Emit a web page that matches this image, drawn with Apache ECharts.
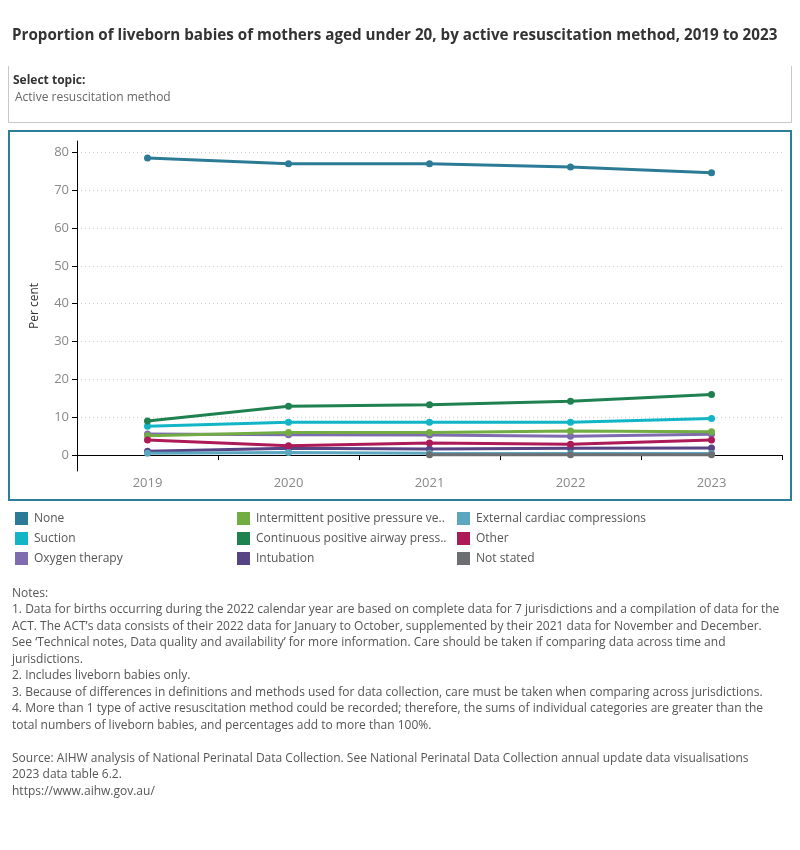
<!DOCTYPE html>
<html><head><meta charset="utf-8">
<script src="https://cdn.jsdelivr.net/npm/echarts@6/dist/echarts.min.js"></script>
<style>html,body{margin:0;padding:0;background:#fff}#c{width:800px;height:850px}</style>
</head><body><div id="c"></div>
<script>
const years = ['2019','2020','2021','2022','2023'];
const yTicks = [0,10,20,30,40,50,60,70,80];
const seriesNames = ['None','Suction','Oxygen therapy','Intermittent positive pressure ventilation','Continuous positive airway pressure','Intubation','External cardiac compressions','Other','Not stated'];
const legendLabels = {'Intermittent positive pressure ventilation':'Intermittent positive pressure ve..','Continuous positive airway pressure':'Continuous positive airway press..'};
const none = [78.5,77.0,77.0,76.1,74.6];
const suction = [7.6,8.7,8.7,8.7,9.7];
const oxygen = [5.6,5.4,5.3,5.0,5.5];
const ippv = [5.1,6.0,6.0,6.4,6.2];
const cpap = [9.0,12.9,13.3,14.2,16.0];
const intubation = [1.0,1.8,1.6,1.8,1.9];
const ecc = [0.5,0.7,0.5,0.4,0.4];
const other = [4.0,2.5,3.2,2.9,4.0];
const notStated = [null,null,0.1,0.1,0.1];
const colors = ['#2c7b96','#12b5c6','#7f6bb0','#72ad44','#1f8050','#564485','#5aa7bf','#ac1b57','#6d6e71'];
const notes = [
 'Notes:',
 '1. Data for births occurring during the 2022 calendar year are based on complete data for 7 jurisdictions and a compilation of data for the',
 'ACT. The ACT\u2019s data consists of their 2022 data for January to October, supplemented by their 2021 data for November and December.',
 'See \u2018Technical notes, Data quality and availability\u2019 for more information. Care should be taken if comparing data across time and',
 'jurisdictions.',
 '2. Includes liveborn babies only.',
 '3. Because of differences in definitions and methods used for data collection, care must be taken when comparing across jurisdictions.',
 '4. More than 1 type of active resuscitation method could be recorded; therefore, the sums of individual categories are greater than the',
 'total numbers of liveborn babies, and percentages add to more than 100%.',
 '',
 'Source: AIHW analysis of National Perinatal Data Collection. See National Perinatal Data Collection annual update data visualisations',
 '2023 data table 6.2.',
 'https://www.aihw.gov.au/'
];
const values = [none,suction,oxygen,ippv,cpap,intubation,ecc,other,notStated];
const FONT = '"Open Sans", sans-serif';
const chart = echarts.init(document.getElementById('c'));
const legendCol = (i, left) => ({
  orient:'vertical', left:left, top:507, itemWidth:13, itemHeight:13, itemGap:7,
  icon:'rect', data: seriesNames.slice(i*3,i*3+3),
  textStyle:{color:'#555', fontSize:12, fontFamily:FONT, padding:[0,0,0,1]},
  formatter: n => legendLabels[n] || n, selectedMode:false
});
const graphics = [
  {type:'text', left:12, top:28, style:{text:'Proportion of liveborn babies of mothers aged under 20, by active resuscitation method, 2019 to 2023', font:'bold 15.2px '+FONT, fill:'#333'}},
  {type:'polyline', shape:{points:[[8.5,66],[8.5,122.5],[791.5,122.5],[791.5,66]]}, style:{stroke:'#c8c8c8', lineWidth:1, fill:null}},
  {type:'text', left:13, top:75, style:{text:'Select topic:', font:'bold 12px '+FONT, fill:'#333'}},
  {type:'text', left:15, top:92, style:{text:'Active resuscitation method', font:'12px '+FONT, fill:'#666'}},
  {type:'rect', shape:{x:9,y:131,width:782,height:369}, style:{stroke:'#2e7d9a', lineWidth:2, fill:null}, z:-1},
  {type:'text', left:12, top:585, style:{text:notes.join('\n'), font:'12px '+FONT, fill:'#555', lineHeight:16.5}}
];
chart.setOption({
  animation:false,
  color: colors,
  textStyle:{fontFamily:FONT},
  grid:{left:77, right:18, top:141, bottom:379, containLabel:false},
  legend:[legendCol(0,10), legendCol(1,232), legendCol(2,452)],
  xAxis:{type:'category', data:years, boundaryGap:true,
    axisLine:{lineStyle:{color:'#000', width:1}},
    axisTick:{show:true, length:5, lineStyle:{color:'#000'}},
    axisLabel:{color:'#888', fontSize:13, margin:6}},
  yAxis:{type:'value', min:-4.2, max:83,
    name:'Per cent', nameLocation:'middle', nameGap:36, nameRotate:90,
    nameTextStyle:{color:'#333', fontSize:12},
    axisLine:{show:true, lineStyle:{color:'#000', width:1}},
    axisTick:{show:true, length:5, inside:false, customValues:yTicks, lineStyle:{color:'#000'}},
    axisLabel:{color:'#888', fontSize:13, margin:8, customValues:yTicks},
    splitLine:{show:true, lineStyle:{color:'#cfcfcf', type:[1,3], width:1}}},
  graphic: graphics,
  series: seriesNames.map((n,i)=>({
    name:n, type:'line', data:values[i], symbol:'circle', symbolSize:7,
    lineStyle:{width:3}, itemStyle:{color:colors[i]}, emphasis:{disabled:true},
    z: i===0?5:2
  }))
});
</script></body></html>
